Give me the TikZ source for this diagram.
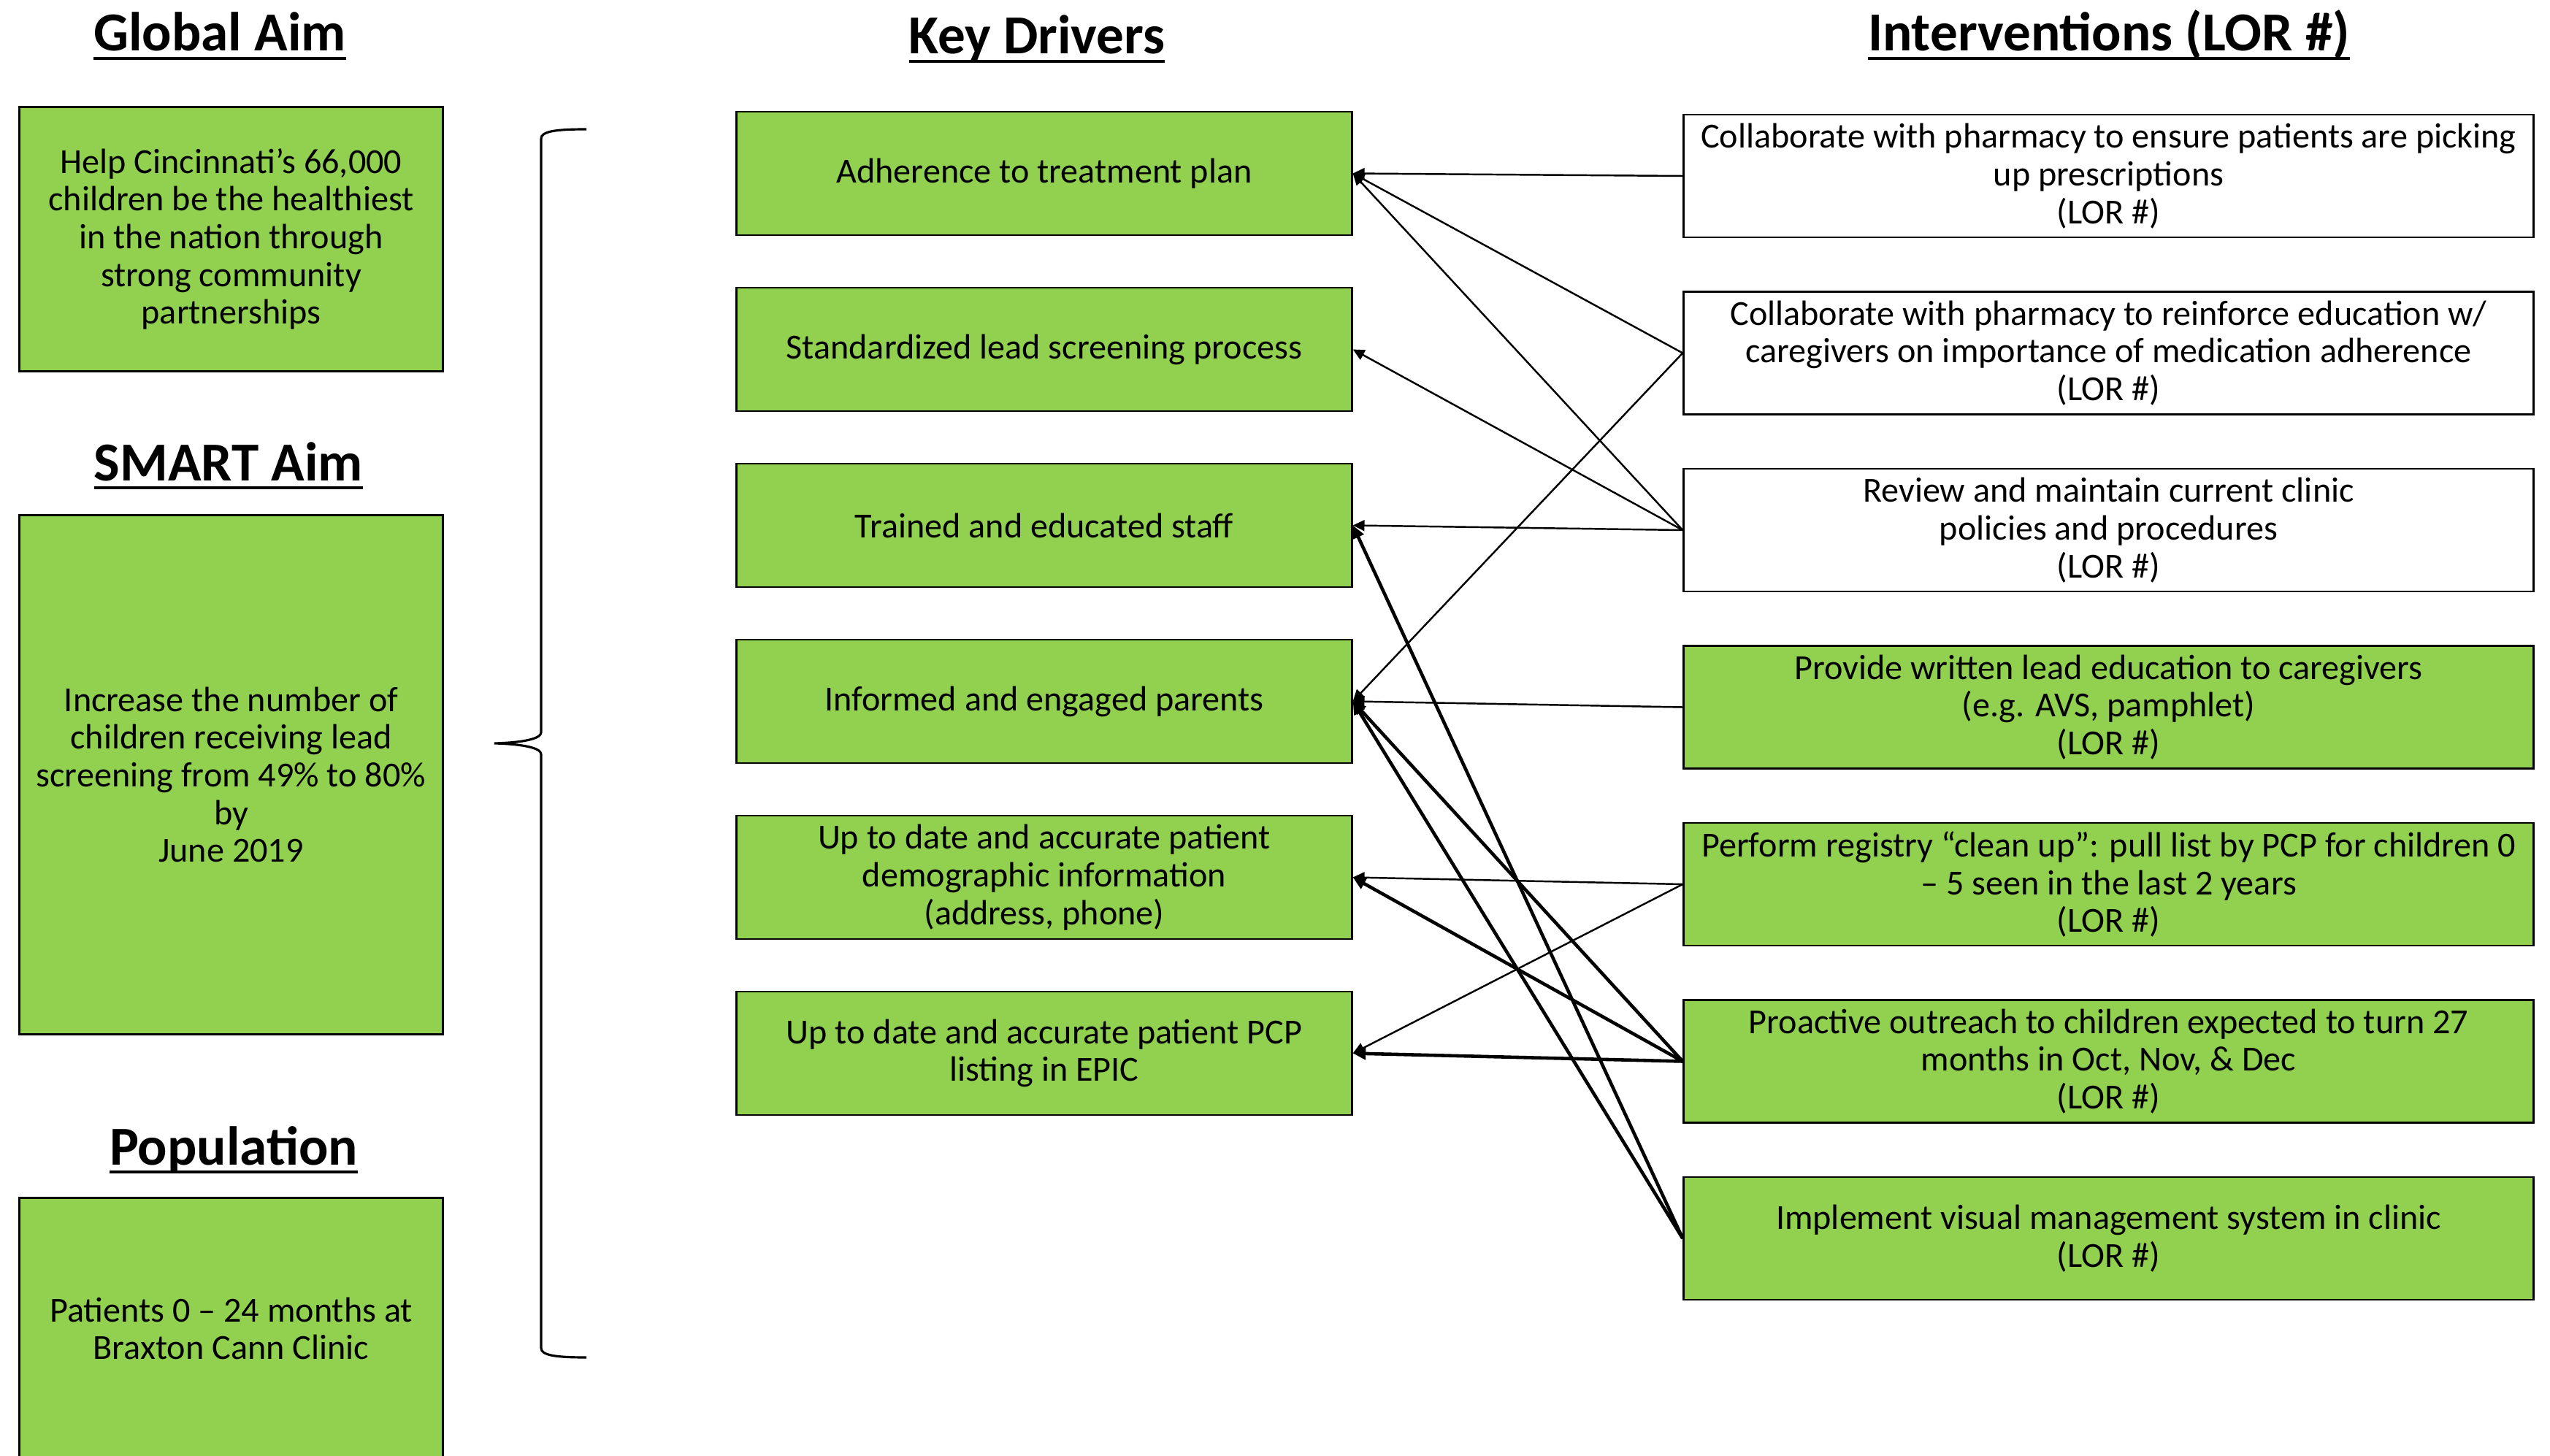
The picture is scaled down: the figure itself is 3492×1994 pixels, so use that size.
\documentclass[tikz,border=0pt]{standalone}
\usepackage{fontspec}
\setmainfont{Carlito}
\usetikzlibrary{arrows.meta}
\definecolor{leadgreen}{RGB}{146,208,80}
\newsavebox{\hdbox}
\newcommand{\ulhead}[1]{\sbox{\hdbox}{#1}\rlap{\rule[-3.3pt]{\wd\hdbox}{1.1pt}}\usebox{\hdbox}}

\begin{document}
\begin{tikzpicture}[x = 0.01cm, y = -0.01cm,
  head/.style = {anchor = base, inner sep = 0pt, font = \fontsize{21.4}{25}\selectfont\bfseries},
  aimbox/.style = {draw, line width = 0.8pt, fill = leadgreen, minimum width = 5.79cm, inner sep = 0pt, align = center, font = \fontsize{13.7}{14.7}\selectfont},
  driver/.style = {draw, line width = 0.8pt, fill = leadgreen, minimum width = 8.42cm, minimum height = 1.69cm, inner sep = 0pt, align = center, font = \fontsize{13.7}{14.7}\selectfont},
  interv/.style = {draw, line width = 0.8pt, fill = white, minimum width = 11.63cm, minimum height = 1.68cm, inner sep = 0pt, align = center, font = \fontsize{13.7}{14.7}\selectfont},
  ginterv/.style = {interv, fill = leadgreen},
  link/.style = {-{Triangle[length = 4.5pt, width = 4.2pt]}, line width = 0.7pt},
  boldlink/.style = {-{Triangle[length = 5pt, width = 4.6pt]}, line width = 1.3pt}]
%\draw [help lines] (0, 0) grid (3492, 1994);
\clip (0, 0) rectangle (3492, 1994);

% left column
\node [head] (globalhd) at (301, 70) {\ulhead{Global Aim}};
\node [aimbox, minimum height = 3.61cm] (global) at (316.5, 327.5) {Help Cincinnati’s 66,000\\children be the healthiest\\in the nation through\\strong community\\partnerships};
\node [head] (smarthd) at (313, 658) {\ulhead{SMART Aim}};
\node [aimbox, minimum height = 7.10cm] (smart) at (316.5, 1061) {Increase the number of\\children receiving lead\\screening from 49\% to 80\%\\by\\June 2019};
\node [head] (pophd) at (320, 1595) {\ulhead{Population}};
\node [aimbox, minimum height = 3.57cm] (pop) at (316.5, 1819.5) {Patients 0 – 24 months at\\Braxton Cann Clinic};

% brace
\draw [line width = 0.9pt] (803, 177) .. controls (760, 177) and (741, 180) .. (741, 190)
  -- (741, 1003) .. controls (741, 1012) and (715, 1017) .. (677, 1018)
  .. controls (715, 1019) and (741, 1024) .. (741, 1033)
  -- (741, 1846) .. controls (741, 1856) and (760, 1859) .. (803, 1859);

% key drivers
\node [head] (drvhd) at (1420, 74) {\ulhead{Key Drivers}};
\node [driver] (d1) at (1430, 237.5) {Adherence to treatment plan};
\node [driver] (d2) at (1430, 478.5) {Standardized lead screening process};
\node [driver] (d3) at (1430, 719.5) {Trained and educated staff};
\node [driver] (d4) at (1430, 960.5) {Informed and engaged parents};
\node [driver] (d5) at (1430, 1201.5) {Up to date and accurate patient\\demographic information\\(address, phone)};
\node [driver] (d6) at (1430, 1442.5) {Up to date and accurate patient PCP\\listing in EPIC};

% interventions
\node [head] (ivhd) at (2888, 70) {\ulhead{Interventions (LOR \#)}};
\node [interv] (i1) at (2887.5, 241) {Collaborate with pharmacy to ensure patients are picking\\up prescriptions\\(LOR \#)};
\node [interv] (i2) at (2887.5, 483.5) {Collaborate with pharmacy to reinforce education w/\\caregivers on importance of medication adherence\\(LOR \#)};
\node [interv] (i3) at (2887.5, 726) {Review and maintain current clinic\\policies and procedures\\(LOR \#)};
\node [ginterv] (i4) at (2887.5, 968.5) {Provide written lead education to caregivers\\(e.g. AVS, pamphlet)\\(LOR \#)};
\node [ginterv] (i5) at (2887.5, 1211) {Perform registry “clean up”: pull list by PCP for children 0\\– 5 seen in the last 2 years\\(LOR \#)};
\node [ginterv] (i6) at (2887.5, 1453.5) {Proactive outreach to children expected to turn 27\\months in Oct, Nov, \& Dec\\(LOR \#)};
\node [ginterv] (i7) at (2887.5, 1696) {Implement visual management system in clinic\\(LOR \#)};

% links
\draw [link] (i1.west) -- (d1.east);
\draw [link] (i2.west) -- (d1.east);
\draw [link] (i2.west) -- (d4.east);
\draw [link] (i3.west) -- (d1.east);
\draw [link] (i3.west) -- (d2.east);
\draw [link] (i3.west) -- (d3.east);
\draw [link] (i4.west) -- (d4.east);
\draw [link] (i5.west) -- (d5.east);
\draw [link] (i5.west) -- (d6.east);
\draw [boldlink] (i6.west) -- (d4.east);
\draw [boldlink] (i6.west) -- (d5.east);
\draw [boldlink] (i6.west) -- (d6.east);
\draw [boldlink] (i7.west) -- (d3.east);
\draw [boldlink] (i7.west) -- (d4.east);
\end{tikzpicture}
\end{document}
